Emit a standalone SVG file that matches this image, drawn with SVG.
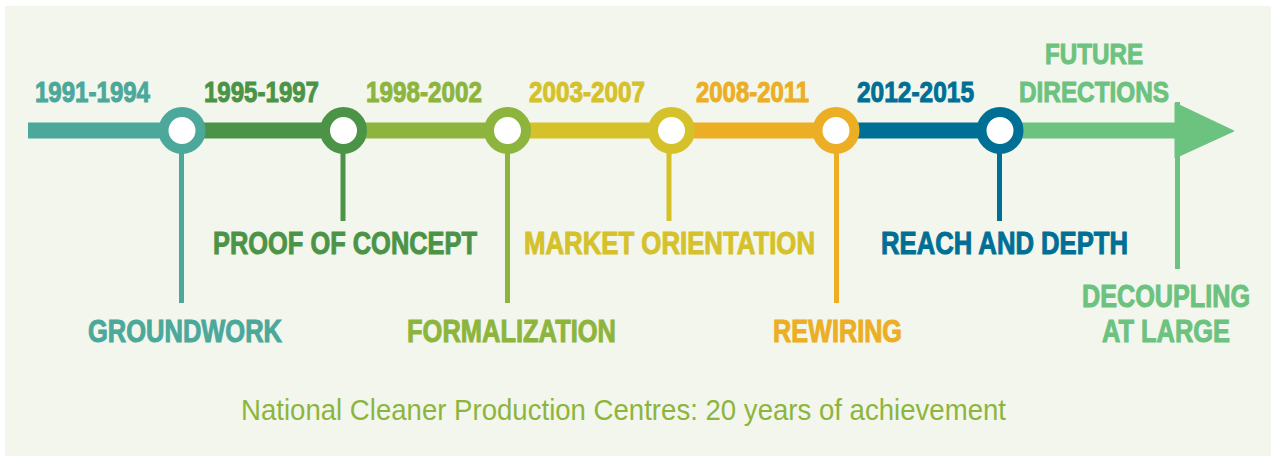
<svg xmlns="http://www.w3.org/2000/svg" width="1271" height="456" viewBox="0 0 1271 456">
<style>
.lbl{font-family:"Liberation Sans Narrow","Liberation Sans",Arial,sans-serif;font-weight:bold;font-size:30px}
.big{font-size:32px}
.title{font-family:"Liberation Sans Narrow","Liberation Sans",Arial,sans-serif;font-size:29.5px;fill:#8db53e}
.seg{stroke-width:16;fill:none}
.drop{stroke-width:5;fill:none}
.dot{fill:#ffffff;stroke-width:10}
.c1{fill:#4ba89b;stroke:#4ba89b}
.c2{fill:#4b9447;stroke:#4b9447}
.c3{fill:#8db53e;stroke:#8db53e}
.c4{fill:#d5c12a;stroke:#d5c12a}
.c5{fill:#ebae24;stroke:#ebae24}
.c6{fill:#006f95;stroke:#006f95}
.c7{fill:#6cc27f;stroke:#6cc27f}
text{stroke:none}
</style>
<rect x="0" y="0" width="1271" height="456" fill="#ffffff"/>
<rect x="5" y="6" width="1266" height="450" fill="#f3f6ec"/>
<g id="connectors">
<line class="seg c1" x1="28" y1="130.5" x2="182" y2="130.5"/>
<line class="seg c2" x1="182" y1="130.5" x2="343" y2="130.5"/>
<line class="seg c3" x1="343" y1="130.5" x2="508" y2="130.5"/>
<line class="seg c4" x1="508" y1="130.5" x2="671" y2="130.5"/>
<line class="seg c5" x1="671" y1="130.5" x2="836" y2="130.5"/>
<line class="seg c6" x1="836" y1="130.5" x2="1000" y2="130.5"/>
<line class="seg c7" x1="1000" y1="130.5" x2="1180" y2="130.5"/>
<polygon class="c7" points="1175,103 1234,131 1175,158"/>
<line class="drop c7" x1="1177.5" y1="102" x2="1177.5" y2="269"/>
<line class="drop c1" x1="181.5" y1="150" x2="181.5" y2="303"/>
<line class="drop c2" x1="343" y1="150" x2="343" y2="221"/>
<line class="drop c3" x1="507.5" y1="150" x2="507.5" y2="303"/>
<line class="drop c4" x1="669" y1="150" x2="669" y2="221"/>
<line class="drop c5" x1="836.5" y1="150" x2="836.5" y2="303"/>
<line class="drop c6" x1="999.5" y1="150" x2="999.5" y2="221"/>
</g>
<g id="n1">
<circle class="dot" style="stroke:#4ba89b" cx="182" cy="130.5" r="18.5"/>
<text class="lbl c1" x="35" y="102" textLength="115" lengthAdjust="spacingAndGlyphs">1991-1994</text>
<text class="lbl big c1" x="88" y="342" textLength="194" lengthAdjust="spacingAndGlyphs">GROUNDWORK</text>
</g>
<g id="n2">
<circle class="dot" style="stroke:#4b9447" cx="343.5" cy="130.5" r="18.5"/>
<text class="lbl c2" x="204" y="102" textLength="115" lengthAdjust="spacingAndGlyphs">1995-1997</text>
<text class="lbl big c2" x="213" y="254" textLength="264" lengthAdjust="spacingAndGlyphs">PROOF OF CONCEPT</text>
</g>
<g id="n3">
<circle class="dot" style="stroke:#8db53e" cx="507.5" cy="130.5" r="18.5"/>
<text class="lbl c3" x="366" y="102" textLength="116" lengthAdjust="spacingAndGlyphs">1998-2002</text>
<text class="lbl big c3" x="407" y="342" textLength="209" lengthAdjust="spacingAndGlyphs">FORMALIZATION</text>
</g>
<g id="n4">
<circle class="dot" style="stroke:#d5c12a" cx="671.5" cy="130.5" r="18.5"/>
<text class="lbl c4" x="529" y="102" textLength="116" lengthAdjust="spacingAndGlyphs">2003-2007</text>
<text class="lbl big c4" x="524" y="254" textLength="291" lengthAdjust="spacingAndGlyphs">MARKET ORIENTATION</text>
</g>
<g id="n5">
<circle class="dot" style="stroke:#ebae24" cx="836" cy="130.5" r="18.5"/>
<text class="lbl c5" x="696" y="102" textLength="113" lengthAdjust="spacingAndGlyphs">2008-2011</text>
<text class="lbl big c5" x="773" y="342" textLength="129" lengthAdjust="spacingAndGlyphs">REWIRING</text>
</g>
<g id="n6">
<circle class="dot" style="stroke:#006f95" cx="1000" cy="130.5" r="18.5"/>
<text class="lbl c6" x="857" y="102" textLength="117" lengthAdjust="spacingAndGlyphs">2012-2015</text>
<text class="lbl big c6" x="881" y="254" textLength="247" lengthAdjust="spacingAndGlyphs">REACH AND DEPTH</text>
</g>
<g id="n7">
<text class="lbl c7" x="1045" y="64" textLength="98" lengthAdjust="spacingAndGlyphs">FUTURE</text>
<text class="lbl c7" x="1019" y="102" textLength="150" lengthAdjust="spacingAndGlyphs">DIRECTIONS</text>
<text class="lbl big c7" transform="matrix(0.7887,0,0,1,1082,307)" x="0" y="0" textLength="213" lengthAdjust="spacingAndGlyphs">DECOUPLING</text>
<text class="lbl big c7" x="1102" y="342" textLength="128" lengthAdjust="spacingAndGlyphs">AT LARGE</text>
</g>
<g id="title">
<text class="title" x="241" y="420" textLength="765" lengthAdjust="spacingAndGlyphs">National Cleaner Production Centres: 20 years of achievement</text>
</g>
</svg>
